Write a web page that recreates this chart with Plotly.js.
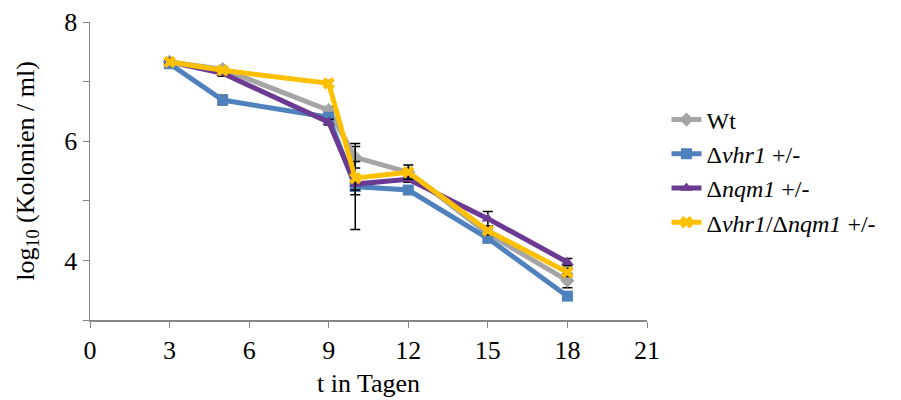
<!DOCTYPE html>
<html><head><meta charset="utf-8">
<script src="https://cdn.plot.ly/plotly-3.0.1.min.js"></script>
<style>html,body{margin:0;padding:0;background:#fff}#chart{width:901px;height:400px}</style>
</head><body><div id="chart"></div>
<script>
const days = [3, 5, 9, 10, 12, 15, 18];
const wt = [7.33, 7.21, 6.52, 5.73, 5.48, 4.45, 3.66];
const vhr1 = [7.30, 6.69, 6.40, 5.24, 5.18, 4.37, 3.40];
const nqm1 = [7.33, 7.14, 6.32, 5.28, 5.36, 4.70, 3.97];
const dbl = [7.33, 7.19, 6.97, 5.38, 5.48, 4.50, 3.80];
const wtErr = [0.04, 0.04, 0.06, 0.18, 0.05, 0.08, 0.12];
const vhr1Err = [0.05, 0.08, 0.05, 0.72, 0.05, 0.05, 0.05];
const nqm1Err = [0.04, 0.05, 0.05, 0.10, 0.05, 0.12, 0.06];
const dblErr = [0.04, 0.04, 0.05, 0.28, 0.12, 0.07, 0.07];
const names = ['Wt', 'Δ<i>vhr1</i> +/-', 'Δ<i>nqm1</i> +/-', 'Δ<i>vhr1</i>/Δ<i>nqm1</i> +/-'];
const colors = ['#A5A5A5', '#4F81BD', '#6B3A92', '#FFC000'];
const symbols = ['diamond', 'square', 'triangle-up', 'x'];
const series = [wt, vhr1, nqm1, dbl];
const errs = [wtErr, vhr1Err, nqm1Err, dblErr];

const traces = series.map((s, i) => ({
  x: days, y: s, name: names[i], type: 'scatter', mode: 'lines+markers',
  line: {color: colors[i], width: 5},
  marker: {color: colors[i], symbol: symbols[i], size: 11},
  error_y: {type: 'data', array: errs[i], visible: true, color: '#000', thickness: 1.5, width: 5}
}));

const serif = 'Liberation Serif';
const layout = {
  width: 901, height: 400,
  margin: {l: 90, r: 254, t: 22, b: 80},
  paper_bgcolor: '#fff', plot_bgcolor: '#fff',
  font: {family: serif, size: 26, color: '#000'},
  showlegend: true,
  legend: {x: 1.035, y: 0.5, xanchor: 'left', yanchor: 'middle', font: {family: serif, size: 24}, tracegroupgap: 0, bgcolor: 'rgba(0,0,0,0)'},
  xaxis: {
    range: [0, 21], tickvals: [0, 3, 6, 9, 12, 15, 18, 21], ticks: 'outside', ticklen: 6, tickcolor: '#868686',
    showline: true, linecolor: '#868686', linewidth: 1.5, showgrid: false, zeroline: false,
    title: {text: 't in Tagen', font: {family: serif, size: 26}, standoff: 10}, tickfont: {family: serif, size: 26}
  },
  yaxis: {
    range: [3, 8], tickvals: [3, 4, 5, 6, 7, 8], ticktext: ['', '4', '', '6', '', '8'],
    ticks: 'outside', ticklen: 6, tickcolor: '#868686',
    showline: true, linecolor: '#868686', linewidth: 1.5, showgrid: false, zeroline: false,
    title: {text: 'log<sub>10</sub> (Kolonien / ml)', font: {family: serif, size: 26}, standoff: 22}, tickfont: {family: serif, size: 26}
  }
};
Plotly.newPlot('chart', traces, layout, {staticPlot: true, displayModeBar: false});
</script></body></html>
